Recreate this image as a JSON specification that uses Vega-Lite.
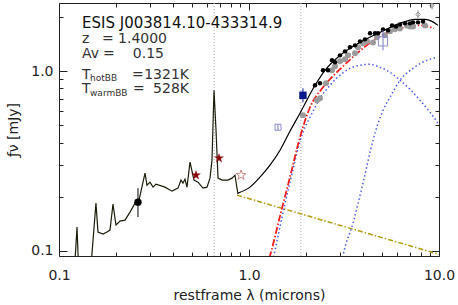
{
"$schema":"https://vega.github.io/schema/vega-lite/v6.json",
"width":380,"height":253,
"autosize":{"type":"none"},
"padding":{"left":59,"top":3,"right":19,"bottom":49},
"background":"white",
"config":{"view":{"stroke":"#222","strokeWidth":1},"axis":{"grid":false,"domain":false,"labelFont":"DejaVu Sans","titleFont":"DejaVu Sans","tickColor":"#222","labelColor":"#222","titleColor":"#222","titleFontWeight":"normal"}},
"datasets":{
"lines":[{"wl":0.6563},{"wl":1.875}],
"spectrum":[{"wl":0.1199,"f":0.07},{"wl":0.1244,"f":0.1354},{"wl":0.1274,"f":0.07},{"wl":0.1456,"f":0.07},{"wl":0.1565,"f":0.1841},{"wl":0.1604,"f":0.1271},{"wl":0.1704,"f":0.1238},{"wl":0.1789,"f":0.1271},{"wl":0.1855,"f":0.1303},{"wl":0.1924,"f":0.1817},{"wl":0.1995,"f":0.139},{"wl":0.2095,"f":0.1462},{"wl":0.2225,"f":0.1481},{"wl":0.2364,"f":0.1641},{"wl":0.2512,"f":0.1841},{"wl":0.2637,"f":0.1912},{"wl":0.2836,"f":0.2702},{"wl":0.2904,"f":0.2317},{"wl":0.3013,"f":0.2407},{"wl":0.3125,"f":0.2259},{"wl":0.3241,"f":0.2348},{"wl":0.3613,"f":0.2259},{"wl":0.3933,"f":0.2146},{"wl":0.4229,"f":0.223},{"wl":0.4385,"f":0.2471},{"wl":0.4493,"f":0.2377},{"wl":0.4603,"f":0.2503},{"wl":0.4717,"f":0.2259},{"wl":0.4893,"f":0.3111},{"wl":0.5133,"f":0.2471},{"wl":0.5389,"f":0.2407},{"wl":0.5727,"f":0.223},{"wl":0.6011,"f":0.2259},{"wl":0.6233,"f":0.2535},{"wl":0.6386,"f":0.3191},{"wl":0.6543,"f":0.7813},{"wl":0.6705,"f":0.4685},{"wl":0.687,"f":0.2535},{"wl":0.721,"f":0.2471},{"wl":0.7754,"f":0.2471},{"wl":0.8138,"f":0.2535},{"wl":0.8437,"f":0.2633},{"wl":0.8645,"f":0.223},{"wl":0.8751,"f":0.2065}],
"model":[{"wl":0.8751,"f":0.2092},{"wl":1.012,"f":0.2259},{"wl":1.1426,"f":0.2567},{"wl":1.29,"f":0.2993},{"wl":1.456,"f":0.3625},{"wl":1.643,"f":0.4624},{"wl":1.855,"f":0.5821},{"wl":2.226,"f":0.8328},{"wl":2.512,"f":1.009},{"wl":3.012,"f":1.222},{"wl":3.839,"f":1.443},{"wl":4.893,"f":1.641},{"wl":6.232,"f":1.841},{"wl":7.477,"f":1.938},{"wl":8.439,"f":1.938},{"wl":9.19,"f":1.888},{"wl":9.88,"f":1.794}],
"disk":[{"wl":0.8645,"f":0.2039},{"wl":10,"f":0.0955}],
"totbb":[{"wl":1.229,"f":0.0781},{"wl":1.29,"f":0.0935},{"wl":1.456,"f":0.1559},{"wl":1.643,"f":0.2567},{"wl":1.855,"f":0.4281},{"wl":2.095,"f":0.6287},{"wl":2.452,"f":0.8116},{"wl":3.087,"f":1.048},{"wl":3.701,"f":1.254},{"wl":4.893,"f":1.559},{"wl":6.232,"f":1.726},{"wl":7.943,"f":1.794},{"wl":9.412,"f":1.726}],
"hotbb":[{"wl":1.321,"f":0.0833},{"wl":1.643,"f":0.2407},{"wl":1.923,"f":0.4564},{"wl":2.095,"f":0.553},{"wl":2.364,"f":0.7055},{"wl":2.669,"f":0.833},{"wl":3.012,"f":0.9465},{"wl":3.4,"f":1.035},{"wl":3.839,"f":1.076},{"wl":4.334,"f":1.09},{"wl":4.893,"f":1.048},{"wl":5.523,"f":0.9835},{"wl":6.232,"f":0.888},{"wl":7.036,"f":0.791},{"wl":7.943,"f":0.6876},{"wl":8.966,"f":0.5895},{"wl":9.88,"f":0.5122}],
"warmbb":[{"wl":3.012,"f":0.075},{"wl":3.124,"f":0.0935},{"wl":3.527,"f":0.1425},{"wl":3.981,"f":0.2377},{"wl":4.494,"f":0.4121},{"wl":5.073,"f":0.6048},{"wl":5.523,"f":0.7145},{"wl":6.232,"f":0.888},{"wl":7.297,"f":1.035},{"wl":8.646,"f":1.147},{"wl":9.76,"f":1.191}],
"irs":[{"wl":2.226,"f":0.833},{"wl":2.364,"f":0.8545},{"wl":2.452,"f":1.009},{"wl":2.605,"f":1.009},{"wl":2.734,"f":1.147},{"wl":2.835,"f":1.118},{"wl":3.012,"f":1.222},{"wl":3.202,"f":1.286},{"wl":3.4,"f":1.354},{"wl":3.613,"f":1.389},{"wl":3.839,"f":1.462},{"wl":4.078,"f":1.5},{"wl":4.334,"f":1.62},{"wl":4.605,"f":1.62},{"wl":4.775,"f":1.62},{"wl":5.073,"f":1.705},{"wl":5.391,"f":1.683},{"wl":5.657,"f":1.794},{"wl":5.938,"f":1.771},{"wl":6.232,"f":1.817},{"wl":6.623,"f":1.841},{"wl":7.036,"f":1.841},{"wl":7.297,"f":1.865},{"wl":7.752,"f":1.865},{"wl":8.237,"f":1.888}],
"irsraw":[{"wl":1.923,"f":0.5675},{"wl":2.28,"f":0.6876},{"wl":2.364,"f":0.7055},{"wl":2.543,"f":0.8545},{"wl":2.734,"f":1.009},{"wl":2.835,"f":1.062},{"wl":3.012,"f":1.132},{"wl":3.202,"f":1.162},{"wl":3.319,"f":1.222},{"wl":3.613,"f":1.254},{"wl":3.747,"f":1.354},{"wl":3.981,"f":1.425},{"wl":4.179,"f":1.462},{"wl":4.494,"f":1.443},{"wl":4.717,"f":1.539},{"wl":5.196,"f":1.579},{"wl":5.523,"f":1.662},{"wl":5.867,"f":1.705},{"wl":6.232,"f":1.726},{"wl":6.785,"f":1.794},{"wl":7.036,"f":1.771},{"wl":7.297,"f":1.771},{"wl":8.439,"f":1.794}],
"phot":[{"wl":0.2604,"f":0.1864,"lo":0.1539,"hi":0.223,"src":"circle"},{"wl":1.923,"f":0.7328,"lo":0.67,"hi":0.8015,"src":"bluesq"},{"wl":1.421,"f":0.4866,"lo":0.4685,"hi":0.5057,"src":"opensmall"},{"wl":5.073,"f":1.462,"lo":1.303,"hi":1.683,"src":"openlarge"},{"wl":7.752,"f":2.065,"lo":1.963,"hi":2.174,"src":"diamond"},{"wl":9.19,"f":2.317,"lo":2.202,"hi":2.439,"src":"diamond"}],
"stars":[{"wl":0.5261,"f":0.2633},{"wl":0.6953,"f":0.3273}],
"openstar":[{"wl":0.9077,"f":0.2633}],
"one":[{}]
},
"layer":[
{"data":{"name":"lines"},"mark":{"type":"rule","color":"#aaaaaa","strokeDash":[1,2],"strokeWidth":1},
 "encoding":{"x":{"field":"wl","type":"quantitative","scale":{"type":"log","domain":[0.1,10]},"axis":null}}},
{"data":{"name":"disk"},"mark":{"type":"line","color":"#b39c12","strokeDash":[5,2,1.5,2],"strokeWidth":1.5,"clip":true},
 "encoding":{"x":{"field":"wl","type":"quantitative","scale":{"type":"log","domain":[0.1,10]},"axis":{"orient":"bottom","values":[0.1,1,10],"format":".1f","ticks":false,"labelPadding":12,"labelFontSize":14,"labelFlush":false,"labelOverlap":false,"title":"restframe λ (microns)","titleFontSize":14,"titlePadding":6}},
  "y":{"field":"f","type":"quantitative","scale":{"type":"log","domain":[0.0935,2.39]},"axis":{"orient":"left","values":[0.1,1],"format":".1f","ticks":false,"labelPadding":6,"labelFontSize":14,"labelFlush":false,"labelOverlap":false,"title":"ƒν  [mJy]","titleFontSize":14,"titlePadding":10}}}},
{"data":{"name":"hotbb"},"mark":{"type":"line","color":"#4c5ce8","strokeDash":[1.5,2.5],"strokeWidth":1.5,"interpolate":"monotone","clip":true},
 "encoding":{"x":{"field":"wl","type":"quantitative","scale":{"type":"log","domain":[0.1,10]},"axis":{"orient":"bottom","values":[0.1,1,10],"labels":false,"tickSize":7,"offset":-7,"title":null}},
  "y":{"field":"f","type":"quantitative","scale":{"type":"log","domain":[0.0935,2.39]},"axis":{"orient":"left","values":[0.1,1],"labels":false,"tickSize":8,"offset":-8,"title":null}}}},
{"data":{"name":"warmbb"},"mark":{"type":"line","color":"#4c5ce8","strokeDash":[1.5,2.5],"strokeWidth":1.5,"interpolate":"monotone","clip":true},
 "encoding":{"x":{"field":"wl","type":"quantitative","scale":{"type":"log","domain":[0.1,10]},"axis":{"orient":"bottom","values":[0.2,0.3,0.4,0.5,0.6,0.7,0.8,0.9,2,3,4,5,6,7,8,9],"labels":false,"tickSize":4,"offset":-4,"title":null}},
  "y":{"field":"f","type":"quantitative","scale":{"type":"log","domain":[0.0935,2.39]},"axis":{"orient":"left","values":[0.2,0.3,0.4,0.5,0.6,0.7,0.8,0.9,2],"labels":false,"tickSize":4,"offset":-4,"title":null}}}},
{"data":{"name":"totbb"},"mark":{"type":"line","color":"#f02020","strokeDash":[7,2,1.5,2],"strokeWidth":1.8,"interpolate":"monotone","clip":true},
 "encoding":{"x":{"field":"wl","type":"quantitative","scale":{"type":"log","domain":[0.1,10]},"axis":{"orient":"top","values":[0.1,1,10],"labels":false,"tickSize":7,"offset":-7,"title":null}},
  "y":{"field":"f","type":"quantitative","scale":{"type":"log","domain":[0.0935,2.39]},"axis":{"orient":"right","values":[0.1,1],"labels":false,"tickSize":8,"offset":-8,"title":null}}}},
{"data":{"name":"irsraw"},"mark":{"type":"point","filled":true,"color":"#9a9a9a","opacity":1,"size":36,"clip":true},
 "encoding":{"x":{"field":"wl","type":"quantitative","scale":{"type":"log","domain":[0.1,10]},"axis":{"orient":"top","values":[0.2,0.3,0.4,0.5,0.6,0.7,0.8,0.9,2,3,4,5,6,7,8,9],"labels":false,"tickSize":4,"offset":-4,"title":null}},
  "y":{"field":"f","type":"quantitative","scale":{"type":"log","domain":[0.0935,2.39]},"axis":{"orient":"right","values":[0.2,0.3,0.4,0.5,0.6,0.7,0.8,0.9,2],"labels":false,"tickSize":4,"offset":-4,"title":null}}}},
{"data":{"name":"model"},"mark":{"type":"line","color":"#000000","strokeWidth":1.2,"interpolate":"monotone","clip":true},
 "encoding":{"x":{"field":"wl","type":"quantitative","scale":{"type":"log","domain":[0.1,10]},"axis":null},
  "y":{"field":"f","type":"quantitative","scale":{"type":"log","domain":[0.0935,2.39]},"axis":null}}},
{"data":{"name":"irs"},"mark":{"type":"point","filled":true,"color":"#000000","opacity":1,"size":20,"clip":true},
 "encoding":{"x":{"field":"wl","type":"quantitative","scale":{"type":"log","domain":[0.1,10]},"axis":null},
  "y":{"field":"f","type":"quantitative","scale":{"type":"log","domain":[0.0935,2.39]},"axis":null}}},
{"data":{"name":"spectrum"},"mark":{"type":"line","color":"#1c1c0a","strokeWidth":1.2,"clip":true},
 "encoding":{"x":{"field":"wl","type":"quantitative","scale":{"type":"log","domain":[0.1,10]},"axis":null},
  "y":{"field":"f","type":"quantitative","scale":{"type":"log","domain":[0.0935,2.39]},"axis":null}}},
{"data":{"name":"phot"},"transform":[{"filter":"datum.src==='circle'"}],"mark":{"type":"rule","color":"#000000","strokeWidth":1,"clip":true},
 "encoding":{"x":{"field":"wl","type":"quantitative","scale":{"type":"log","domain":[0.1,10]},"axis":null},
  "y":{"field":"lo","type":"quantitative","scale":{"type":"log","domain":[0.0935,2.39]},"axis":null},"y2":{"field":"hi"}}},
{"data":{"name":"phot"},"transform":[{"filter":"datum.src==='circle'"}],"mark":{"type":"point","shape":"circle","filled":true,"color":"#000000","opacity":1,"size":55,"clip":true},
 "encoding":{"x":{"field":"wl","type":"quantitative","scale":{"type":"log","domain":[0.1,10]},"axis":null},
  "y":{"field":"f","type":"quantitative","scale":{"type":"log","domain":[0.0935,2.39]},"axis":null}}},
{"data":{"name":"stars"},"mark":{"type":"point","shape":"M0,-1L0.2245,-0.309L0.9511,-0.309L0.3633,0.118L0.5878,0.809L0,0.382L-0.5878,0.809L-0.3633,0.118L-0.9511,-0.309L-0.2245,-0.309Z","filled":true,"color":"#8b0a0a","opacity":1,"size":110,"clip":true},
 "encoding":{"x":{"field":"wl","type":"quantitative","scale":{"type":"log","domain":[0.1,10]},"axis":null},
  "y":{"field":"f","type":"quantitative","scale":{"type":"log","domain":[0.0935,2.39]},"axis":null}}},
{"data":{"name":"openstar"},"mark":{"type":"point","shape":"M0,-1L0.2245,-0.309L0.9511,-0.309L0.3633,0.118L0.5878,0.809L0,0.382L-0.5878,0.809L-0.3633,0.118L-0.9511,-0.309L-0.2245,-0.309Z","filled":false,"color":"#c98a8a","opacity":1,"strokeWidth":1,"size":110,"clip":true},
 "encoding":{"x":{"field":"wl","type":"quantitative","scale":{"type":"log","domain":[0.1,10]},"axis":null},
  "y":{"field":"f","type":"quantitative","scale":{"type":"log","domain":[0.0935,2.39]},"axis":null}}},
{"data":{"name":"phot"},"transform":[{"filter":"datum.src==='bluesq'"}],"mark":{"type":"rule","color":"#0a1a8c","strokeWidth":1,"clip":true},
 "encoding":{"x":{"field":"wl","type":"quantitative","scale":{"type":"log","domain":[0.1,10]},"axis":null},
  "y":{"field":"lo","type":"quantitative","scale":{"type":"log","domain":[0.0935,2.39]},"axis":null},"y2":{"field":"hi"}}},
{"data":{"name":"phot"},"transform":[{"filter":"datum.src==='bluesq'"}],"mark":{"type":"point","shape":"square","filled":true,"color":"#0a1a8c","opacity":1,"size":55,"clip":true},
 "encoding":{"x":{"field":"wl","type":"quantitative","scale":{"type":"log","domain":[0.1,10]},"axis":null},
  "y":{"field":"f","type":"quantitative","scale":{"type":"log","domain":[0.0935,2.39]},"axis":null}}},
{"data":{"name":"phot"},"transform":[{"filter":"datum.src==='opensmall' || datum.src==='openlarge'"}],"mark":{"type":"rule","color":"#7a7ac8","strokeWidth":1,"clip":true},
 "encoding":{"x":{"field":"wl","type":"quantitative","scale":{"type":"log","domain":[0.1,10]},"axis":null},
  "y":{"field":"lo","type":"quantitative","scale":{"type":"log","domain":[0.0935,2.39]},"axis":null},"y2":{"field":"hi"}}},
{"data":{"name":"phot"},"transform":[{"filter":"datum.src==='opensmall'"}],"mark":{"type":"point","shape":"square","filled":false,"color":"#8a8ad0","opacity":1,"strokeWidth":1,"size":36,"clip":true},
 "encoding":{"x":{"field":"wl","type":"quantitative","scale":{"type":"log","domain":[0.1,10]},"axis":null},
  "y":{"field":"f","type":"quantitative","scale":{"type":"log","domain":[0.0935,2.39]},"axis":null}}},
{"data":{"name":"phot"},"transform":[{"filter":"datum.src==='openlarge'"}],"mark":{"type":"point","shape":"square","filled":false,"color":"#8a8ad0","opacity":1,"strokeWidth":1,"size":85,"clip":true},
 "encoding":{"x":{"field":"wl","type":"quantitative","scale":{"type":"log","domain":[0.1,10]},"axis":null},
  "y":{"field":"f","type":"quantitative","scale":{"type":"log","domain":[0.0935,2.39]},"axis":null}}},
{"data":{"name":"phot"},"transform":[{"filter":"datum.src==='diamond'"}],"mark":{"type":"rule","color":"#888888","strokeWidth":1,"clip":true},
 "encoding":{"x":{"field":"wl","type":"quantitative","scale":{"type":"log","domain":[0.1,10]},"axis":null},
  "y":{"field":"lo","type":"quantitative","scale":{"type":"log","domain":[0.0935,2.39]},"axis":null},"y2":{"field":"hi"}}},
{"data":{"name":"phot"},"transform":[{"filter":"datum.src==='diamond'"}],"mark":{"type":"point","shape":"diamond","filled":false,"color":"#888888","opacity":1,"strokeWidth":1,"size":20,"clip":true},
 "encoding":{"x":{"field":"wl","type":"quantitative","scale":{"type":"log","domain":[0.1,10]},"axis":null},
  "y":{"field":"f","type":"quantitative","scale":{"type":"log","domain":[0.0935,2.39]},"axis":null}}},
{"data":{"name":"one"},"mark":{"type":"text","align":"left","baseline":"alphabetic","font":"DejaVu Sans","fontSize":15,"color":"#111111","text":"ESIS J003814.10-433314.9"},
 "encoding":{"x":{"datum":0.1322,"type":"quantitative","scale":{"type":"log","domain":[0.1,10]},"axis":null},"y":{"datum":1.726,"type":"quantitative","scale":{"type":"log","domain":[0.0935,2.39]},"axis":null}}},
{"data":{"name":"one"},"mark":{"type":"text","align":"left","baseline":"alphabetic","font":"DejaVu Sans","fontSize":14,"color":"#333333","text":"z"},
 "encoding":{"x":{"datum":0.1322,"type":"quantitative","scale":{"type":"log","domain":[0.1,10]},"axis":null},"y":{"datum":1.425,"type":"quantitative","scale":{"type":"log","domain":[0.0935,2.39]},"axis":null}}},
{"data":{"name":"one"},"mark":{"type":"text","align":"left","baseline":"alphabetic","font":"DejaVu Sans","fontSize":14,"color":"#333333","text":"="},
 "encoding":{"x":{"datum":0.1684,"type":"quantitative","scale":{"type":"log","domain":[0.1,10]},"axis":null},"y":{"datum":1.425,"type":"quantitative","scale":{"type":"log","domain":[0.0935,2.39]},"axis":null}}},
{"data":{"name":"one"},"mark":{"type":"text","align":"right","baseline":"alphabetic","font":"DejaVu Sans","fontSize":14,"color":"#333333","text":"1.4000"},
 "encoding":{"x":{"datum":0.3703,"type":"quantitative","scale":{"type":"log","domain":[0.1,10]},"axis":null},"y":{"datum":1.425,"type":"quantitative","scale":{"type":"log","domain":[0.0935,2.39]},"axis":null}}},
{"data":{"name":"one"},"mark":{"type":"text","align":"left","baseline":"alphabetic","font":"DejaVu Sans","fontSize":14,"color":"#333333","text":"Av"},
 "encoding":{"x":{"datum":0.1322,"type":"quantitative","scale":{"type":"log","domain":[0.1,10]},"axis":null},"y":{"datum":1.176,"type":"quantitative","scale":{"type":"log","domain":[0.0935,2.39]},"axis":null}}},
{"data":{"name":"one"},"mark":{"type":"text","align":"left","baseline":"alphabetic","font":"DejaVu Sans","fontSize":14,"color":"#333333","text":"="},
 "encoding":{"x":{"datum":0.1704,"type":"quantitative","scale":{"type":"log","domain":[0.1,10]},"axis":null},"y":{"datum":1.176,"type":"quantitative","scale":{"type":"log","domain":[0.0935,2.39]},"axis":null}}},
{"data":{"name":"one"},"mark":{"type":"text","align":"right","baseline":"alphabetic","font":"DejaVu Sans","fontSize":14,"color":"#333333","text":"0.15"},
 "encoding":{"x":{"datum":0.357,"type":"quantitative","scale":{"type":"log","domain":[0.1,10]},"axis":null},"y":{"datum":1.176,"type":"quantitative","scale":{"type":"log","domain":[0.0935,2.39]},"axis":null}}},
{"data":{"name":"one"},"mark":{"type":"text","align":"left","baseline":"alphabetic","font":"DejaVu Sans","fontSize":14,"color":"#333333","text":"T"},
 "encoding":{"x":{"datum":0.1322,"type":"quantitative","scale":{"type":"log","domain":[0.1,10]},"axis":null},"y":{"datum":0.8993,"type":"quantitative","scale":{"type":"log","domain":[0.0935,2.39]},"axis":null}}},
{"data":{"name":"one"},"mark":{"type":"text","align":"left","baseline":"alphabetic","font":"DejaVu Sans","fontSize":9,"color":"#333333","text":"hotBB"},
 "encoding":{"x":{"datum":0.1456,"type":"quantitative","scale":{"type":"log","domain":[0.1,10]},"axis":null},"y":{"datum":0.8766,"type":"quantitative","scale":{"type":"log","domain":[0.0935,2.39]},"axis":null}}},
{"data":{"name":"one"},"mark":{"type":"text","align":"left","baseline":"alphabetic","font":"DejaVu Sans","fontSize":14,"color":"#333333","text":"="},
 "encoding":{"x":{"datum":0.2422,"type":"quantitative","scale":{"type":"log","domain":[0.1,10]},"axis":null},"y":{"datum":0.8993,"type":"quantitative","scale":{"type":"log","domain":[0.0935,2.39]},"axis":null}}},
{"data":{"name":"one"},"mark":{"type":"text","align":"right","baseline":"alphabetic","font":"DejaVu Sans","fontSize":14,"color":"#333333","text":"1321K"},
 "encoding":{"x":{"datum":0.4831,"type":"quantitative","scale":{"type":"log","domain":[0.1,10]},"axis":null},"y":{"datum":0.8993,"type":"quantitative","scale":{"type":"log","domain":[0.0935,2.39]},"axis":null}}},
{"data":{"name":"one"},"mark":{"type":"text","align":"left","baseline":"alphabetic","font":"DejaVu Sans","fontSize":14,"color":"#333333","text":"T"},
 "encoding":{"x":{"datum":0.1322,"type":"quantitative","scale":{"type":"log","domain":[0.1,10]},"axis":null},"y":{"datum":0.7516,"type":"quantitative","scale":{"type":"log","domain":[0.0935,2.39]},"axis":null}}},
{"data":{"name":"one"},"mark":{"type":"text","align":"left","baseline":"alphabetic","font":"DejaVu Sans","fontSize":9,"color":"#333333","text":"warmBB"},
 "encoding":{"x":{"datum":0.1456,"type":"quantitative","scale":{"type":"log","domain":[0.1,10]},"axis":null},"y":{"datum":0.728,"type":"quantitative","scale":{"type":"log","domain":[0.0935,2.39]},"axis":null}}},
{"data":{"name":"one"},"mark":{"type":"text","align":"left","baseline":"alphabetic","font":"DejaVu Sans","fontSize":14,"color":"#333333","text":"="},
 "encoding":{"x":{"datum":0.2452,"type":"quantitative","scale":{"type":"log","domain":[0.1,10]},"axis":null},"y":{"datum":0.7516,"type":"quantitative","scale":{"type":"log","domain":[0.0935,2.39]},"axis":null}}},
{"data":{"name":"one"},"mark":{"type":"text","align":"right","baseline":"alphabetic","font":"DejaVu Sans","fontSize":14,"color":"#333333","text":"528K"},
 "encoding":{"x":{"datum":0.4831,"type":"quantitative","scale":{"type":"log","domain":[0.1,10]},"axis":null},"y":{"datum":0.7516,"type":"quantitative","scale":{"type":"log","domain":[0.0935,2.39]},"axis":null}}}
],
"resolve":{"axis":{"x":"independent","y":"independent"}}
}
